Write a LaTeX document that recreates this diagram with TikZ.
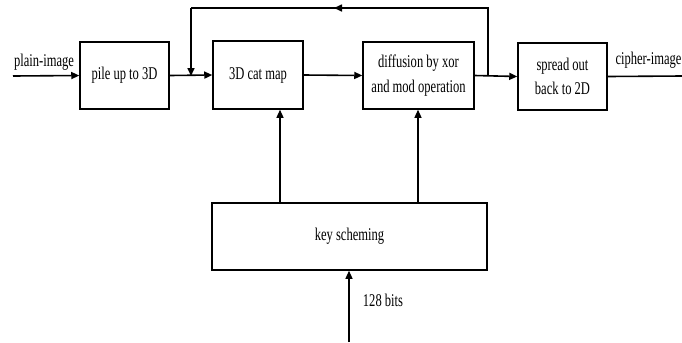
\documentclass[tikz,border=0pt]{standalone}
\usepackage{fontspec}
\setmainfont{Liberation Serif}[FakeStretch=0.7]
\usetikzlibrary{arrows.meta}
\begin{document}
\begin{tikzpicture}[x=1bp,y=-1bp,
  box/.style={draw,line width=1.5bp,inner sep=0pt,align=center,
    font=\fontsize{18}{24.5}\selectfont},
  lbl/.style={inner sep=0pt,font=\fontsize{18}{24.5}\selectfont},
  conn/.style={line width=1.6bp},
  arr/.style={conn,-{Triangle[length=8bp,width=7bp]}},
  thinarr/.style={line width=1.2bp,-{Triangle[length=8bp,width=7bp]}}]
\useasboundingbox (0,0) rectangle (682,342);
\node[box,minimum width=89bp,minimum height=67bp] (pile) at (124.5,75.5) {pile up to 3D};
\node[box,minimum width=90bp,minimum height=68bp] (cat) at (258,75) {3D cat map};
\node[box,minimum width=111bp,minimum height=67bp] (diff) at (418.5,75.5) {diffusion by xor\\and mod operation};
\node[box,minimum width=89bp,minimum height=67bp] (spread) at (562.5,76.5) {spread out\\back to 2D};
\node[box,minimum width=275bp,minimum height=67bp] (key) at (349.5,236.5) {key scheming};
\coordinate (in) at (13,76);
\coordinate (out) at (682,76);
\coordinate (fb1) at (488,76);
\coordinate (fb2) at (488,8);
\coordinate (fbm) at (334,8);
\coordinate (fb3) at (191,8);
\coordinate (fb4) at (191,76);
\coordinate (kin) at (349,342);
\node[lbl] (plain) at (44,62) {plain-image};
\node[lbl] (cipher) at (648.5,60) {cipher-image};
\node[lbl] (bits) at (383,300) {128 bits};
\draw[arr] (in) -- (pile.west);
\draw[arr] (pile.east) -- (cat.west);
\draw[arr] (cat.east) -- (diff.west);
\draw[arr] (diff.east) -- (spread.west);
\draw[conn] (spread.east) -- (out);
\draw[conn] (fb1) -- (fb2) -- (fb3);
\draw[arr] (fb2) -- (fbm);
\draw[arr] (fb3) -- (fb4);
\draw[thinarr] (key.north -| 280,0) -- (cat.south -| 280,0);
\draw[thinarr] (key.north -| 418,0) -- (diff.south -| 418,0);
\draw[thinarr] (kin) -- (key.south -| kin);
\end{tikzpicture}
\end{document}
